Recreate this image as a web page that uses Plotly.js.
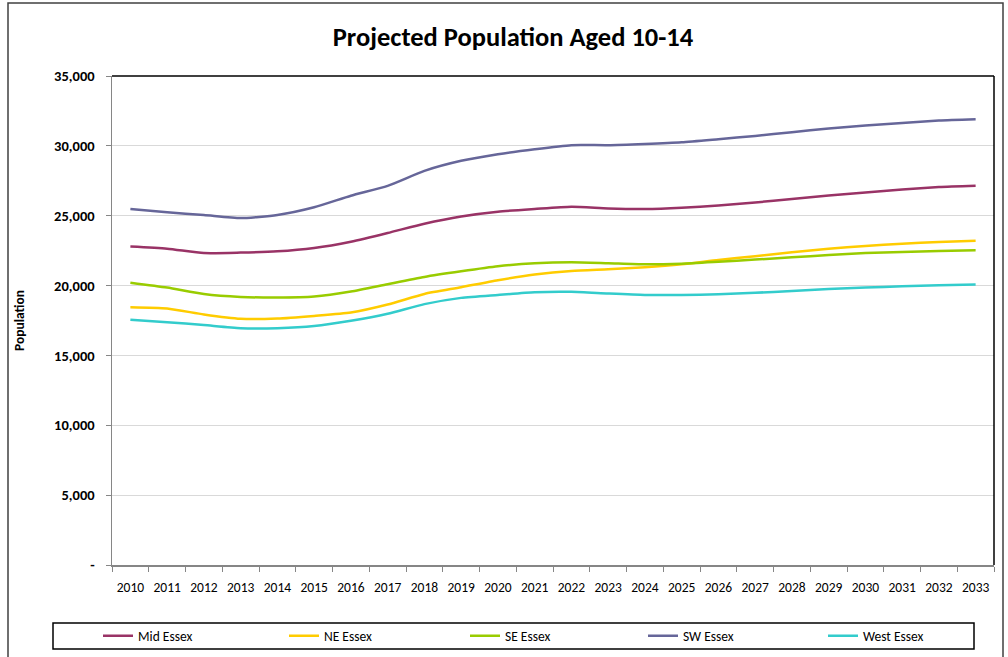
<!DOCTYPE html>
<html>
<head>
<meta charset="utf-8">
<script src="https://cdn.plot.ly/plotly-3.0.1.min.js"></script>
<style>
html,body{margin:0;padding:0;background:#fff;}
#chart{width:1008px;height:657px;}
</style>
</head>
<body>
<div id="chart"></div>
<script>
const years = ["2010","2011","2012","2013","2014","2015","2016","2017","2018","2019","2020","2021","2022","2023","2024","2025","2026","2027","2028","2029","2030","2031","2032","2033"];

const midEssex  = [22790,22640,22330,22360,22450,22690,23140,23760,24430,24950,25290,25480,25640,25520,25480,25570,25740,25950,26190,26450,26670,26880,27050,27140];
const neEssex   = [18450,18360,17930,17620,17640,17830,18070,18640,19400,19880,20380,20790,21050,21170,21310,21520,21830,22100,22380,22640,22830,23000,23120,23210];
const seEssex   = [20210,19860,19400,19190,19140,19210,19570,20100,20620,21020,21380,21600,21670,21600,21520,21570,21710,21860,22020,22190,22330,22400,22480,22520];
const swEssex   = [25480,25240,25050,24830,25050,25600,26430,27140,28210,28930,29400,29760,30050,30050,30140,30260,30480,30710,30980,31240,31450,31640,31810,31900];
const westEssex = [17550,17380,17170,16950,16950,17100,17480,17980,18670,19120,19330,19520,19550,19430,19330,19330,19380,19480,19620,19760,19860,19950,20020,20070];

const seriesNames  = ["Mid Essex","NE Essex","SE Essex","SW Essex","West Essex"];
const seriesValues = [midEssex, neEssex, seEssex, swEssex, westEssex];
const seriesColors = ["#993366","#FFCC00","#99CC00","#666699","#33CCCC"];

const yTickVals  = [0,5000,10000,15000,20000,25000,30000,35000];
const yTickText  = ["-","5,000","10,000","15,000","20,000","25,000","30,000","35,000"];

const FONT = "Carlito, Calibri, Lato, 'Liberation Sans', sans-serif";

// plot area: x 112..994 px, y 76..565 px
const L = 112, R = 994, T = 76, B = 565, W = 1008, H = 657;
const px = v => (v - L) / (R - L);
const py = v => (B - v) / (B - T);

// legend entry left positions (px, container) - one legend per series
const legendIds = ["legend","legend2","legend3","legend4","legend5"];
const legendX   = [98, 284, 465, 643, 823];

const traces = seriesNames.map((name, i) => ({
  type: "scatter",
  mode: "lines",
  name: name,
  x: years,
  y: seriesValues[i],
  legend: legendIds[i],
  line: {color: seriesColors[i], width: 2.5, shape: "spline", smoothing: 0.6}
}));

const layout = {
  width: W, height: H,
  margin: {l: L, r: W - R, t: T, b: H - B, autoexpand: false},
  paper_bgcolor: "#ffffff",
  plot_bgcolor: "#ffffff",
  font: {family: FONT, color: "#000000", size: 12},
  title: {
    text: "<b>Projected Population Aged 10-14</b>",
    font: {family: FONT, size: 26.5, color: "#000000"},
    x: 513 / W, xref: "container", xanchor: "center",
    y: 1 - 37 / H, yref: "container", yanchor: "middle"
  },
  showlegend: true,
  xaxis: {
    type: "category",
    range: [-0.5, years.length - 0.5],
    showgrid: false,
    showline: true, linecolor: "#868686", linewidth: 1.5,
    ticks: "outside", ticklen: 5, tickcolor: "#868686", tickwidth: 1,
    tickson: "boundaries",
    ticklabelstandoff: 9,
    tickfont: {family: FONT, size: 13.5, color: "#000000"},
    tickangle: 0,
    zeroline: false,
    fixedrange: true
  },
  yaxis: {
    range: [0, 35000],
    tickvals: yTickVals, ticktext: yTickText,
    showgrid: true, gridcolor: "#d9d9d9", gridwidth: 1,
    showline: true, linecolor: "#868686", linewidth: 1.5,
    ticks: "outside", ticklen: 5, tickcolor: "#868686", tickwidth: 1,
    ticklabelstandoff: 8,
    tickfont: {family: FONT, size: 14.5, color: "#000000", weight: "bold"},
    zeroline: false,
    title: {text: "<b>Population</b>", font: {family: FONT, size: 13.5, color: "#000000"}, standoff: 26},
    fixedrange: true
  },
  shapes: [
    // outer chart border
    {type: "rect", xref: "paper", yref: "paper",
     x0: px(8), x1: px(1003), y0: py(3), y1: py(680),
     line: {color: "#404040", width: 1.5}, fillcolor: "rgba(0,0,0,0)", layer: "above"},
    // plot area top and right border
    {type: "line", xref: "paper", yref: "paper", x0: 0, x1: 1, y0: 1, y1: 1,
     line: {color: "#000000", width: 1.5}, layer: "above"},
    {type: "line", xref: "paper", yref: "paper", x0: 1, x1: 1, y0: 0, y1: 1,
     line: {color: "#000000", width: 1.5}, layer: "above"},
    // legend box
    {type: "rect", xref: "paper", yref: "paper",
     x0: px(53), x1: px(974), y0: py(623), y1: py(649),
     line: {color: "#000000", width: 1.5}, fillcolor: "rgba(0,0,0,0)", layer: "above"}
  ]
};

legendIds.forEach((id, i) => {
  layout[id] = {
    orientation: "h",
    xref: "container", yref: "container",
    x: legendX[i] / W, xanchor: "left",
    y: 1 - 636 / H, yanchor: "middle",
    itemwidth: 30,
    bgcolor: "rgba(0,0,0,0)",
    borderwidth: 0,
    font: {family: FONT, size: 13.5, color: "#000000"}
  };
});

Plotly.newPlot("chart", traces, layout, {displayModeBar: false, staticPlot: true});
</script>
</body>
</html>
